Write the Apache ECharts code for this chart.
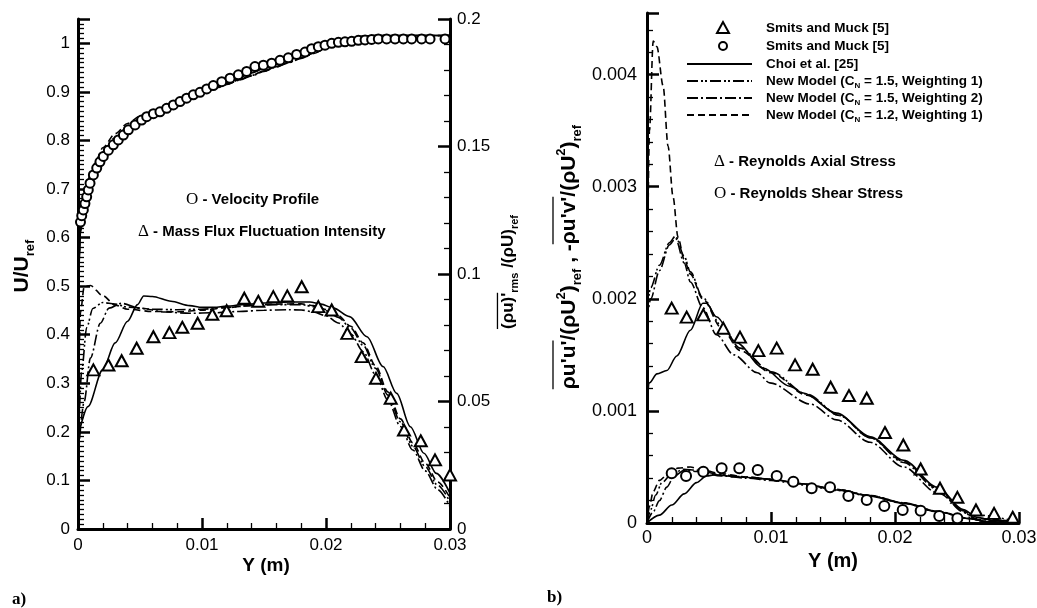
<!DOCTYPE html>
<html><head><meta charset="utf-8">
<script src="https://cdn.jsdelivr.net/npm/echarts@6/dist/echarts.min.js"></script>
<style>html,body{margin:0;padding:0;background:#fff}#c{width:1037px;height:608px}</style>
</head><body><div id="c"></div>
<script>
// ---------- Panel a) : velocity profile (left axis) ----------
const velExp = [[0.0002,0.632],[0.0003,0.645],[0.00043,0.657],[0.00056,0.670],[0.00070,0.684],[0.00083,0.698],[0.00097,0.712],[0.00124,0.729],[0.00151,0.743],[0.00177,0.756],[0.00204,0.767],[0.00245,0.780],[0.00285,0.791],[0.00325,0.801],[0.00366,0.811],[0.00406,0.822],[0.00460,0.832],[0.00513,0.842],[0.00554,0.849],[0.00608,0.855],[0.00661,0.859],[0.00715,0.866],[0.00769,0.873],[0.00823,0.880],[0.00876,0.887],[0.00930,0.894],[0.00984,0.899],[0.01038,0.906],[0.01091,0.913],[0.01159,0.921],[0.01226,0.928],[0.01293,0.935],[0.01360,0.942],[0.01427,0.952],[0.01495,0.955],[0.01562,0.959],[0.01629,0.965],[0.01696,0.970],[0.01763,0.977],[0.01831,0.982],[0.01884,0.989],[0.01938,0.993],[0.01992,0.996],[0.02046,1.000],[0.02100,1.002],[0.02153,1.003],[0.02207,1.004],[0.02261,1.006],[0.02315,1.007],[0.02368,1.008],[0.02422,1.009],[0.02489,1.009],[0.02557,1.009],[0.02624,1.009],[0.02691,1.009],[0.02771,1.009],[0.02839,1.009],[0.02960,1.009]];
const velChoi = [[0,0.45],[0.0002,0.61],[0.0005,0.662],[0.001,0.71],[0.0015,0.74],[0.002,0.763],[0.003,0.795],[0.004,0.818],[0.005,0.838],[0.006,0.853],[0.007,0.865],[0.008,0.876],[0.009,0.887],[0.010,0.899],[0.011,0.909],[0.012,0.919],[0.013,0.929],[0.014,0.939],[0.015,0.948],[0.016,0.957],[0.017,0.966],[0.018,0.975],[0.019,0.985],[0.020,0.995],[0.021,1.004],[0.022,1.011],[0.023,1.015],[0.024,1.016],[0.03,1.016]];
const velW1 = [[0,0.45],[0.0002,0.62],[0.0005,0.675],[0.001,0.722],[0.0015,0.752],[0.002,0.776],[0.003,0.806],[0.004,0.828],[0.005,0.845],[0.006,0.858],[0.007,0.869],[0.008,0.879],[0.009,0.889],[0.010,0.898],[0.011,0.907],[0.012,0.916],[0.013,0.925],[0.014,0.934],[0.015,0.943],[0.016,0.952],[0.017,0.961],[0.018,0.970],[0.019,0.980],[0.020,0.991],[0.021,1.001],[0.022,1.009],[0.023,1.014],[0.024,1.016],[0.03,1.016]];
const velW2 = [[0,0.45],[0.0002,0.615],[0.0005,0.67],[0.001,0.717],[0.0015,0.748],[0.002,0.771],[0.003,0.802],[0.004,0.825],[0.005,0.843],[0.006,0.857],[0.007,0.868],[0.008,0.878],[0.009,0.888],[0.010,0.897],[0.011,0.906],[0.012,0.915],[0.013,0.924],[0.014,0.933],[0.015,0.942],[0.016,0.951],[0.017,0.960],[0.018,0.969],[0.019,0.979],[0.020,0.990],[0.021,1.000],[0.022,1.008],[0.023,1.013],[0.024,1.015],[0.03,1.016]];
const velCN12 = [[0,0.45],[0.0002,0.63],[0.0005,0.685],[0.001,0.73],[0.0015,0.761],[0.002,0.785],[0.003,0.814],[0.004,0.835],[0.005,0.850],[0.006,0.861],[0.007,0.871],[0.008,0.880],[0.009,0.889],[0.010,0.898],[0.011,0.907],[0.012,0.916],[0.013,0.925],[0.014,0.934],[0.015,0.943],[0.016,0.952],[0.017,0.961],[0.018,0.970],[0.019,0.980],[0.020,0.991],[0.021,1.001],[0.022,1.009],[0.023,1.014],[0.024,1.016],[0.03,1.016]];
// ---------- Panel a) : mass flux fluctuation intensity (right axis) ----------
const mfExp = [[0.00124,0.0624],[0.00245,0.0643],[0.00352,0.0660],[0.00473,0.0709],[0.00608,0.0754],[0.00737,0.0770],[0.00841,0.0791],[0.00965,0.0807],[0.01083,0.0842],[0.01199,0.0856],[0.01341,0.0905],[0.01454,0.0893],[0.01575,0.0911],[0.01688,0.0914],[0.01804,0.0950],[0.01938,0.0872],[0.02046,0.0859],[0.02172,0.0767],[0.02288,0.0676],[0.02403,0.0591],[0.02522,0.0513],[0.02629,0.0388],[0.02764,0.0346],[0.02879,0.0271],[0.03000,0.0212]];
const mfChoi = [[0,0.036],[0.0008,0.048],[0.002,0.0625],[0.003,0.073],[0.004,0.0815],[0.0048,0.088],[0.0053,0.0914],[0.006,0.0912],[0.0075,0.0893],[0.009,0.0876],[0.010,0.0869],[0.011,0.0869],[0.012,0.0874],[0.0135,0.0881],[0.015,0.0886],[0.017,0.089],[0.0187,0.089],[0.0196,0.0882],[0.0206,0.0866],[0.0219,0.0833],[0.0233,0.0754],[0.0246,0.0637],[0.0257,0.0532],[0.0268,0.0401],[0.0279,0.0297],[0.0289,0.0218],[0.03,0.014]];
const mfW1 = [[0,0.03],[0.0003,0.062],[0.0007,0.079],[0.0012,0.0865],[0.002,0.0888],[0.003,0.0882],[0.004,0.087],[0.006,0.0862],[0.008,0.086],[0.010,0.0862],[0.012,0.0869],[0.014,0.0876],[0.016,0.088],[0.018,0.088],[0.019,0.0872],[0.020,0.0856],[0.021,0.083],[0.022,0.0788],[0.023,0.072],[0.024,0.063],[0.025,0.0525],[0.026,0.042],[0.027,0.0325],[0.028,0.0245],[0.029,0.0172],[0.030,0.0106]];
const mfW2 = [[0,0.028],[0.0005,0.05],[0.001,0.067],[0.0018,0.0807],[0.0025,0.0866],[0.0035,0.0885],[0.005,0.0866],[0.007,0.0851],[0.009,0.0846],[0.011,0.0848],[0.013,0.0853],[0.015,0.0858],[0.017,0.086],[0.018,0.0859],[0.019,0.0851],[0.020,0.0836],[0.021,0.0808],[0.022,0.0765],[0.023,0.0695],[0.024,0.0605],[0.025,0.0505],[0.026,0.0402],[0.027,0.031],[0.028,0.0228],[0.029,0.0155],[0.030,0.0088]];
const mfCN12 = [[0,0.04],[0.0002,0.085],[0.0005,0.095],[0.001,0.0955],[0.002,0.0915],[0.003,0.0878],[0.004,0.0862],[0.006,0.0853],[0.008,0.0852],[0.010,0.0858],[0.012,0.0868],[0.014,0.0877],[0.016,0.0882],[0.018,0.0883],[0.019,0.0876],[0.020,0.0861],[0.021,0.0836],[0.022,0.0795],[0.023,0.073],[0.024,0.064],[0.025,0.0537],[0.026,0.0432],[0.027,0.0338],[0.028,0.0258],[0.029,0.0185],[0.030,0.0122]];
// ---------- Panel b) : Reynolds axial stress ----------
const axExp = [[0.00199,0.001917],[0.00320,0.001837],[0.00454,0.001857],[0.00615,0.001738],[0.00750,0.001658],[0.00898,0.001538],[0.01046,0.001560],[0.01194,0.001411],[0.01336,0.001372],[0.01481,0.001211],[0.01629,0.001137],[0.01772,0.001113],[0.01919,0.000807],[0.02067,0.000696],[0.02207,0.000482],[0.02363,0.000310],[0.02503,0.000229],[0.02653,0.000116],[0.02799,0.000086],[0.02949,0.000051]];
const axChoi = [[0,0.00105],[0.0002,0.00125],[0.0008,0.00133],[0.0016,0.00136],[0.0024,0.00149],[0.0035,0.00172],[0.0045,0.00196],[0.0048,0.00196],[0.0056,0.00184],[0.0072,0.00161],[0.0094,0.00138],[0.0115,0.00122],[0.0126,0.00116],[0.0153,0.00098],[0.018,0.00077],[0.0207,0.00056],[0.0234,0.00032],[0.0255,0.00012],[0.0266,0.00005],[0.028,0.00002],[0.03,0.00001]];
const axW1 = [[0,0.0019],[0.0003,0.0021],[0.001,0.0023],[0.0018,0.0025],[0.0023,0.00256],[0.003,0.00238],[0.0035,0.00224],[0.0045,0.00201],[0.006,0.00176],[0.0075,0.00156],[0.01,0.00135],[0.0129,0.00115],[0.0155,0.00096],[0.018,0.00076],[0.0207,0.00054],[0.0234,0.0003],[0.0255,0.0001],[0.0265,0.00003],[0.03,0.00001]];
const axW2 = [[0,0.0018],[0.0003,0.002],[0.001,0.00225],[0.0018,0.00248],[0.0023,0.00254],[0.003,0.00232],[0.0035,0.00215],[0.0045,0.00192],[0.0056,0.00168],[0.007,0.0015],[0.0089,0.00134],[0.0099,0.00125],[0.0132,0.00106],[0.0153,0.00092],[0.018,0.00072],[0.0207,0.0005],[0.0234,0.00027],[0.026,0.00008],[0.03,0.00001]];
const axCN12 = [[0,0.0019],[0.0002,0.0035],[0.0005,0.0043],[0.0008,0.00425],[0.0013,0.0039],[0.0017,0.00336],[0.0021,0.00291],[0.0025,0.00255],[0.003,0.00235],[0.0035,0.00222],[0.0045,0.002],[0.006,0.00174],[0.0075,0.00154],[0.01,0.00134],[0.0129,0.00114],[0.0155,0.00096],[0.018,0.00076],[0.0207,0.00055],[0.0234,0.00031],[0.0255,0.00011],[0.0265,0.00004],[0.03,0.00001]];
// ---------- Panel b) : Reynolds shear stress ----------
const shExp = [[0.00199,0.000443],[0.00315,0.000420],[0.00454,0.000458],[0.00602,0.000488],[0.00744,0.000488],[0.00893,0.000473],[0.01046,0.000420],[0.01180,0.000369],[0.01328,0.000310],[0.01476,0.000319],[0.01624,0.000241],[0.01772,0.000205],[0.01914,0.000152],[0.02062,0.000116],[0.02207,0.000110],[0.02357,0.000063],[0.02503,0.000042]];
const shChoi = [[0,0],[0.001,0.00007],[0.002,0.00016],[0.003,0.00026],[0.004,0.00036],[0.0048,0.00042],[0.0055,0.00043],[0.0075,0.00041],[0.01,0.00039],[0.0125,0.00035],[0.0153,0.000295],[0.018,0.00024],[0.0207,0.000176],[0.0234,0.0001],[0.026,0.00004],[0.0275,0.00001],[0.03,0]];
const shW1 = [[0,0],[0.0003,0.00012],[0.0007,0.00025],[0.0012,0.00036],[0.002,0.00044],[0.003,0.00048],[0.004,0.00047],[0.006,0.00043],[0.008,0.00041],[0.01,0.00039],[0.0125,0.00035],[0.0153,0.0003],[0.018,0.000245],[0.0207,0.00018],[0.0234,0.000105],[0.026,0.00004],[0.0275,0.00001],[0.03,0]];
const shW2 = [[0,0],[0.0005,0.0001],[0.001,0.0002],[0.0016,0.00032],[0.0022,0.00042],[0.003,0.00047],[0.004,0.00046],[0.006,0.00042],[0.008,0.0004],[0.01,0.00038],[0.0125,0.00034],[0.0153,0.00029],[0.018,0.00024],[0.0207,0.000175],[0.0234,0.0001],[0.026,0.00004],[0.0275,0.00001],[0.03,0]];
const shCN12 = [[0,0],[0.0002,0.00015],[0.0005,0.00028],[0.001,0.00038],[0.0018,0.00045],[0.0025,0.00049],[0.0035,0.0005],[0.0045,0.00047],[0.006,0.00044],[0.008,0.00041],[0.01,0.00039],[0.0125,0.00035],[0.0153,0.0003],[0.018,0.000245],[0.0207,0.00018],[0.0234,0.000105],[0.026,0.00004],[0.0275,0.00001],[0.03,0]];
// ---------- Texts ----------
const legendNames = ['Smits and Muck [5]','Smits and Muck [5]','Choi et al. [25]','New Model (C_N = 1.5, Weighting 1)','New Model (C_N = 1.5, Weighting 2)','New Model (C_N = 1.2, Weighting 1)'];
const xTitle = 'Y (m)';

const FF = 'Liberation Sans';
const DASH = {solid:'solid', dashed:[7,4], dashdot:[11,3,2,3], dashdotdot:[11,3,2,2,2,3]};
const chart = echarts.init(document.getElementById('c'), null, {renderer:'canvas'});

function fmt(iv){ return v => { const r=v/iv; return Math.abs(r-Math.round(r))<1e-6 ? String(+v.toFixed(5)) : ''; }; }
function xAx(g, fs, margin){
  return {gridIndex:g, type:'value', min:0, max:0.03, interval:0.01,
    axisLine:{show:true, onZero:false, lineStyle:{color:'#000', width:3}},
    axisTick:{show:true, inside:true, length:11, lineStyle:{color:'#000', width:2.5}},
    minorTick:{show:true, splitNumber:5, length:6, lineStyle:{color:'#000', width:1.3}},
    splitLine:{show:false}, minorSplitLine:{show:false},
    axisLabel:{color:'#000', fontSize:fs, fontFamily:FF, margin, formatter:fmt(0.01), showMaxLabel:true, showMinLabel:true, hideOverlap:false}};
}
function yAx(g, pos, max, iv, minorN, fs, margin){
  return {gridIndex:g, type:'value', position:pos, min:0, max, interval:iv,
    axisLine:{show:true, onZero:false, lineStyle:{color:'#000', width:3}},
    axisTick:{show:true, inside:true, length:12, lineStyle:{color:'#000', width:2.5}},
    minorTick:{show:true, splitNumber:minorN, length:6, lineStyle:{color:'#000', width:1.3}},
    splitLine:{show:false}, minorSplitLine:{show:false},
    axisLabel:{color:'#000', fontSize:fs, fontFamily:FF, margin, formatter:fmt(iv), hideOverlap:false}};
}
function line(data, xi, yi, dash, w){
  return {type:'line', xAxisIndex:xi, yAxisIndex:yi, data, symbol:'none', showSymbol:false, smooth:0.3, smoothMonotone:'x',
    lineStyle:{color:'#000', width:w||1.6, type:DASH[dash]}, silent:true, z:2, animation:false};
}
function scat(data, xi, yi, sym, size){
  return {type:'scatter', xAxisIndex:xi, yAxisIndex:yi, data, symbol:sym, symbolSize:size,
    itemStyle:{color:'#fff', borderColor:'#000', borderWidth:2, opacity:1}, silent:true, z:5, animation:false};
}

// text measuring for overline decorations
const mctx = document.createElement('canvas').getContext('2d');
function tw(t, st){ mctx.font = (st.fontWeight||'normal')+' '+st.fontSize+'px '+FF; return mctx.measureText(t).width; }
function rotLabel(cx, cy, fs, segs, overOff){
  const sm = Math.round(fs*0.62);
  const styles = {
    b:{fontSize:fs, fontWeight:'bold', fontFamily:FF, lineHeight:fs+8, verticalAlign:'middle', fill:'#000', color:'#000'},
    s:{fontSize:sm, fontWeight:'bold', fontFamily:FF, lineHeight:sm+1, verticalAlign:'bottom', fill:'#000', color:'#000'},
    p:{fontSize:sm, fontWeight:'bold', fontFamily:FF, lineHeight:sm+1, verticalAlign:'top', fill:'#000', color:'#000'}
  };
  let W=0; const ws = segs.map(s=>{ const w=tw(s.t, styles[s.k]); W+=w; return w; });
  const els = [{type:'text', x:cx, y:cy, rotation:Math.PI/2, z:100, silent:true,
    style:{text:segs.map(s=>'{'+s.k+'|'+s.t+'}').join(''), rich:styles, align:'center', verticalAlign:'middle', textAlign:'center', textVerticalAlign:'middle'}}];
  let acc=0;
  const off = overOff || fs*0.62;
  segs.forEach((s,i)=>{
    if(s.over){
      const y1 = cy + W/2 - acc, y2 = cy + W/2 - acc - ws[i];
      els.push({type:'line', z:100, silent:true, shape:{x1:cx-off, y1, x2:cx-off, y2}, style:{stroke:'#000', lineWidth:1.3}});
    }
    acc += ws[i];
  });
  return els;
}
function annot(x, y, sym, txt){
  return {type:'text', x, y, z:100, silent:true, style:{text:'{s|'+sym+'}{b| - '+txt+'}', align:'left', verticalAlign:'middle', textAlign:'left', textVerticalAlign:'middle',
    rich:{s:{fontSize:17, fontFamily:'Liberation Serif', fill:'#000', color:'#000', lineHeight:20, verticalAlign:'middle'},
          b:{fontSize:15, fontWeight:'bold', fontFamily:FF, fill:'#000', color:'#000', lineHeight:20, verticalAlign:'middle'}}}};
}

const graphics = [];
// axis titles
graphics.push(...rotLabel(22, 266, 21, [{t:'U/U',k:'b'},{t:'ref',k:'s'}]));
graphics.push(...rotLabel(508, 272, 17, [{t:"(ρu)'",k:'b',over:true},{t:'rms',k:'s'},{t:' /(ρU)',k:'b'},{t:'ref',k:'s'}]));
graphics.push(...rotLabel(569, 257, 21, [{t:"ρu'u'",k:'b',over:true},{t:'/(ρU',k:'b'},{t:'2',k:'p'},{t:')',k:'b'},{t:'ref',k:'s'},{t:' , -',k:'b'},{t:"ρu'v'",k:'b',over:true},{t:'/(ρU',k:'b'},{t:'2',k:'p'},{t:')',k:'b'},{t:'ref',k:'s'}], 16));
graphics.push({type:'text', x:266, y:566, z:100, silent:true, style:{text:xTitle, fontSize:19, fontWeight:'bold', fontFamily:FF, fill:'#000', align:'center', verticalAlign:'middle', textAlign:'center', textVerticalAlign:'middle'}});
graphics.push({type:'text', x:833, y:561, z:100, silent:true, style:{text:xTitle, fontSize:20, fontWeight:'bold', fontFamily:FF, fill:'#000', align:'center', verticalAlign:'middle', textAlign:'center', textVerticalAlign:'middle'}});
graphics.push({type:'text', x:12, y:600, z:100, silent:true, style:{text:'a)', fontSize:17, fontWeight:'bold', fontFamily:'Liberation Serif', fill:'#000', align:'left', verticalAlign:'middle', textAlign:'left', textVerticalAlign:'middle'}});
graphics.push({type:'text', x:547, y:598, z:100, silent:true, style:{text:'b)', fontSize:17, fontWeight:'bold', fontFamily:'Liberation Serif', fill:'#000', align:'left', verticalAlign:'middle', textAlign:'left', textVerticalAlign:'middle'}});
// annotations
graphics.push(annot(186, 200, 'O', 'Velocity Profile'));
graphics.push(annot(138, 232, 'Δ', 'Mass Flux Fluctuation Intensity'));
graphics.push(annot(714, 162, 'Δ', 'Reynolds Axial Stress'));
graphics.push(annot(714, 194, 'O', 'Reynolds Shear Stress'));
// legend (panel b)
const legRows = [28, 46, 64, 81, 98, 115];
const legDash = [null, null, 'solid', 'dashdotdot', 'dashdot', 'dashed'];
legendNames.forEach((nm, i) => {
  const y = legRows[i];
  if (i === 0) graphics.push({type:'polygon', z:100, silent:true, shape:{points:[[723,y-6],[717,y+5],[729,y+5]]}, style:{fill:'#fff', stroke:'#000', lineWidth:2}});
  else if (i === 1) graphics.push({type:'circle', z:100, silent:true, shape:{cx:723, cy:y, r:4}, style:{fill:'#fff', stroke:'#000', lineWidth:2}});
  else graphics.push({type:'line', z:100, silent:true, shape:{x1:687, y1:y, x2:752, y2:y}, style:{stroke:'#000', lineWidth:1.8, lineDash: legDash[i]==='solid'?null:DASH[legDash[i]]}});
  let txt;
  const m = nm.match(/^(.*\(C)_N( = .*)$/);
  if (m) txt = '{t|'+m[1]+'}{s|N}{t|'+m[2]+'}'; else txt = '{t|'+nm+'}';
  graphics.push({type:'text', x:766, y, z:100, silent:true, style:{text:txt, align:'left', verticalAlign:'middle', textAlign:'left', textVerticalAlign:'middle',
    rich:{t:{fontSize:13.5, fontWeight:'bold', fontFamily:FF, fill:'#000', color:'#000', lineHeight:18, verticalAlign:'middle'},
          s:{fontSize:8, fontWeight:'bold', fontFamily:FF, fill:'#000', color:'#000', lineHeight:9, verticalAlign:'bottom'}}}});
});

const option = {
  animation:false,
  backgroundColor:'#fff',
  grid:[
    {left:78, top:19, width:372, height:510, containLabel:false, outerBoundsMode:'none'},
    {left:647, top:13, width:372, height:510, containLabel:false, outerBoundsMode:'none'}
  ],
  xAxis:[ xAx(0, 17, 8), xAx(1, 18, 6) ],
  yAxis:[
    yAx(0, 'left', 1.05, 0.1, 10, 17, 8),
    yAx(0, 'right', 0.2, 0.05, 5, 17, 7),
    yAx(1, 'left', 0.00455, 0.001, 5, 18, 10)
  ],
  series:[
    line(velChoi,0,0,'solid'), line(velW1,0,0,'dashdotdot'), line(velW2,0,0,'dashdot'), line(velCN12,0,0,'dashed'),
    line(mfChoi,0,1,'solid'), line(mfW1,0,1,'dashdotdot'), line(mfW2,0,1,'dashdot'), line(mfCN12,0,1,'dashed'),
    scat(velExp,0,0,'circle',9), scat(mfExp,0,1,'triangle',[12,11]),
    line(axChoi,1,2,'solid'), line(axW1,1,2,'dashdotdot'), line(axW2,1,2,'dashdot'), line(axCN12,1,2,'dashed'),
    line(shChoi,1,2,'solid'), line(shW1,1,2,'dashdotdot'), line(shW2,1,2,'dashdot'), line(shCN12,1,2,'dashed'),
    scat(axExp,1,2,'triangle',[12,11]), scat(shExp,1,2,'circle',10)
  ],
  graphic:{elements:graphics}
};
chart.setOption(option);
</script></body></html>
